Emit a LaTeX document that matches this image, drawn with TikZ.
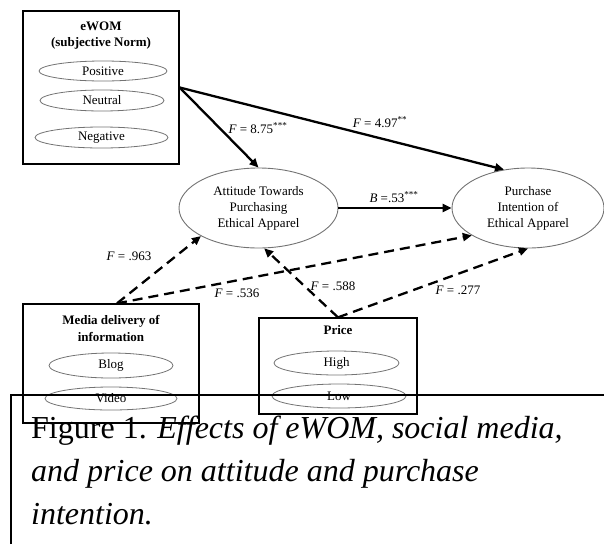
\documentclass[tikz,border=0pt]{standalone}
\usepackage{fontspec}
\setmainfont{Liberation Serif}
\usetikzlibrary{positioning, shapes.geometric, arrows.meta}
\tikzset{
  factorbox/.style={rectangle, draw=black, line width=1.3pt},
  boxtitle/.style={align=center, inner sep=0pt, font=\fontsize{13}{16.5}\selectfont\bfseries},
  levelitem/.style={ellipse, draw=black!55, line width=0.8pt, inner sep=0pt, font=\fontsize{13}{16}\selectfont},
  construct/.style={ellipse, draw=black!55, line width=0.9pt, inner sep=0pt, align=center, font=\fontsize{13}{16}\selectfont},
  coef/.style={inner sep=1pt, font=\fontsize{13}{16}\selectfont},
  arrow/.style={line width=2.3pt, -{Triangle[length=9pt, width=8pt]}},
  dasharrow/.style={arrow, dash pattern=on 10pt off 6pt},
  figcaption/.style={align=left, inner sep=0pt, anchor=north west, font=\fontsize{32}{43}\selectfont},
}

\begin{document}
\begin{tikzpicture}[x=1pt, y=-1pt]
  \useasboundingbox (0,0) rectangle (604,544);

  % eWOM box with its three levels
  \node[factorbox, minimum width=156pt, minimum height=153pt] (ewom) at (101,87.5) {};
  \node[boxtitle, below=11pt of ewom.north] (ewomtitle) {eWOM\\(subjective Norm)};
  \node[levelitem, minimum width=128pt, minimum height=20pt] (pos) at (103,71) {Positive};
  \node[levelitem, minimum width=124pt, minimum height=21pt] (neu) at (102,100.5) {Neutral};
  \node[levelitem, minimum width=133pt, minimum height=21pt] (neg) at (101.5,137.5) {Negative};

  % media box
  \node[factorbox, minimum width=176pt, minimum height=119pt] (media) at (111,363.5) {};
  \node[boxtitle, below=12pt of media.north] (mediatitle) {Media delivery of\\information};
  \node[levelitem, minimum width=124pt, minimum height=25pt] (blog) at (111,365.5) {Blog};
  \node[levelitem, minimum width=132pt, minimum height=23pt] (video) at (111,398.5) {Video};

  % price box
  \node[factorbox, minimum width=158pt, minimum height=96pt] (price) at (338,366) {};
  \node[boxtitle, below=8pt of price.north] (pricetitle) {Price};
  \node[levelitem, minimum width=125pt, minimum height=24pt] (high) at (336.5,363) {High};
  \node[levelitem, minimum width=134pt, minimum height=24pt] (low) at (339,396) {Low};

  % outcomes
  \node[construct, minimum width=159pt, minimum height=80pt] (att) at (258.5,208) {Attitude Towards\\Purchasing\\Ethical Apparel};
  \node[construct, minimum width=152pt, minimum height=80pt] (purch) at (528,208) {Purchase\\Intention of\\Ethical Apparel};

  % paths
  \draw[arrow] (ewom.east) -- (att.north);
  \draw[arrow] (ewom.east) -- (purch.122);
  \draw[arrow] (att.east) -- (purch.west);
  \draw[dasharrow] ([xshift=6pt]media.north) -- (att.206);
  \draw[dasharrow] ([xshift=6pt]media.north) -- (purch.206);
  \draw[dasharrow] (price.north) -- (att.278);
  \draw[dasharrow] (price.north) -- (purch.south);

  % coefficients
  \node[coef] (f1) at (258,128) {\textit{F} = 8.75\textsuperscript{***}};
  \node[coef] (f2) at (380,122) {\textit{F} = 4.97\textsuperscript{**}};
  \node[coef] (b1) at (394,197) {\textit{B} =.53\textsuperscript{***}};
  \node[coef] (f3) at (129,256) {\textit{F} = .963};
  \node[coef] (f4) at (237,293) {\textit{F} = .536};
  \node[coef] (f5) at (333,286) {\textit{F} = .588};
  \node[coef] (f6) at (458,290) {\textit{F} = .277};

  % caption frame and text
  \draw[line width=1.2pt] (11,544) |- (604,395);
  \node[figcaption] (cap) at (31,416) {Figure 1. \textit{Effects of eWOM, social media,}\\\textit{and price on attitude and purchase}\\\textit{intention.}};
\end{tikzpicture}
\end{document}
